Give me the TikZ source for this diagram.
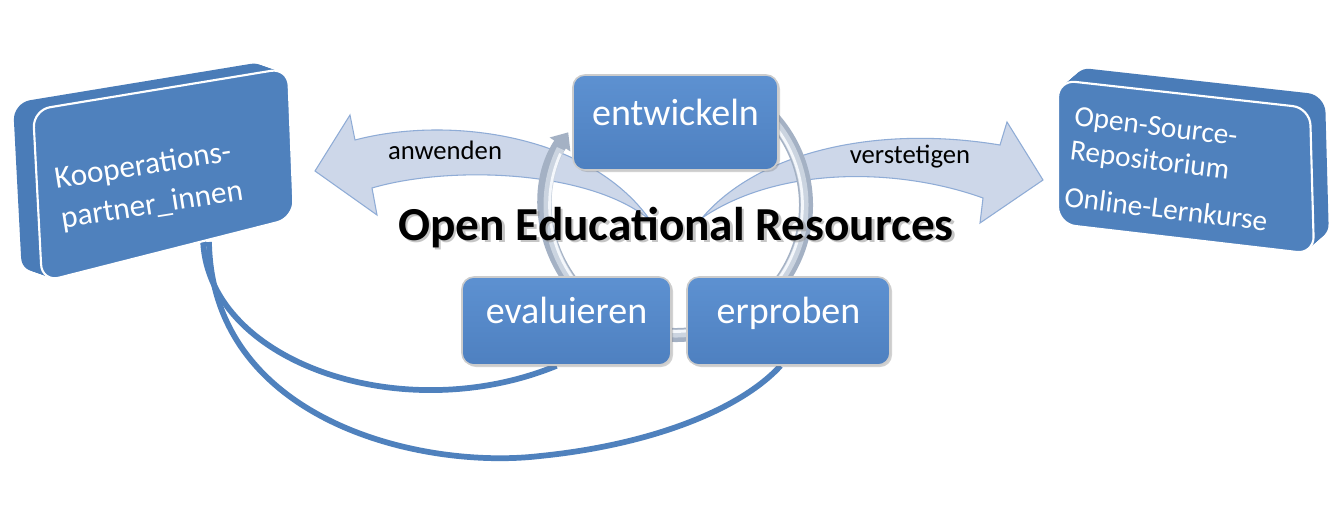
\documentclass[tikz,border=0pt]{standalone}
\usepackage{fontspec}
\setmainfont{Carlito}
\usetikzlibrary{arrows.meta,shadows,calc}
\definecolor{boxblue}{HTML}{4F81BD}
\definecolor{slabblue}{HTML}{4A7CB8}
\definecolor{cbtop}{HTML}{5D91D1}
\definecolor{cbbot}{HTML}{4E80C0}
\definecolor{arrfill}{HTML}{CDD7E9}
\definecolor{arrline}{HTML}{8FACD6}
\definecolor{ringdark}{HTML}{A4B1C4}
\definecolor{ringmid}{HTML}{CBD4E0}
\definecolor{ringlight}{HTML}{F4F7FB}
\definecolor{loopblue}{HTML}{4F81BD}
\newcommand\upx{0.75pt}
\pgfdeclarelayer{back}
\pgfsetlayers{back,main}
\begin{document}
\begin{tikzpicture}[x=0.75pt,y=-0.75pt,
  cbox/.style={rounded corners=9pt, draw=gray!40, line width=1.2pt,
    top color=cbtop, bottom color=cbbot, text=white,
    font=\fontsize{28.5}{34}\selectfont, inner sep=0pt,
    text height=0.6em, text depth=0.2em,
    drop shadow={shadow xshift=1.5pt, shadow yshift=-1.5pt, opacity=0.35}},
  bigarrow/.style={fill=arrfill, draw=arrline, line width=0.8pt},
  fbloop/.style={draw=loopblue, line width=4.3pt},
  slab/.style={fill=slabblue, rounded corners=13pt},
  face/.style={fill=boxblue, draw=white, line width=1.6pt, rounded corners=13pt},
  boxtext/.style={text=white, align=left, inner sep=0pt},
  lbl/.style={font=\fontsize{20}{24}\selectfont, inner sep=0pt},
  ring/.style={line cap=butt}
]
\useasboundingbox (0,0) rectangle (1344,512);

% left 3D box
\foreach \i in {10,9,...,1}
  \fill[slab, shift={(-2*\i,-0.7*\i)}] (33,110) -- (288,68) -- (294,218) -- (42,282) -- cycle;
\filldraw[face] (33,110) -- (288,68) -- (294,218) -- (42,282) -- cycle;
\node[boxtext, rotate=9, font=\fontsize{23.5}{30}\selectfont] (kp) at (149,186)
  {Kooperations-\\partner\_innen};
\coordinate (kpl1) at (203,236);
\coordinate (kpl2) at (209,242);

% right 3D box
\foreach \i in {10,9,...,1}
  \fill[slab, shift={(1.5*\i,-1.3*\i)}] (1058,80) -- (1310,108) -- (1314,254) -- (1058,224) -- cycle;
\filldraw[face] (1058,80) -- (1310,108) -- (1314,254) -- (1058,224) -- cycle;
\node[boxtext, rotate=-7, font=\fontsize{22}{26}\selectfont] (osr) at (1171,169)
  {Open-Source-\\Repositorium\\[9pt]Online-Lernkurse};

% curved arrows
\coordinate (awT) at (650,220);
\coordinate (vsT) at (702,218);
\draw[bigarrow] (awT) .. controls (590,135) and (450,115) .. (355,140) -- (350,115)
  -- (315,171) -- (377,215) -- (372,188) .. controls (450,165) and (590,170) .. (awT) -- cycle;
\draw[bigarrow] (vsT) .. controls (760,150) and (880,125) .. (1000,145) -- (1007,122)
  -- (1043,180) -- (980,223) -- (983,198) .. controls (900,168) and (780,165) .. (vsT) -- cycle;
\node[lbl] (aw) at (445,150) {anwenden};
\node[lbl] (vs) at (910,157) {verstetigen};

% cycle ring
\coordinate (rc) at (676,205);
\draw[ring, line width=10.5pt, ringdark, -{Triangle[length=11pt 0 0,width=18pt 0 0]}]
  (rc) ++(-50:130) arc[start angle=-50, end angle=214, radius=130];
\draw[ring, line width=6pt, ringmid] (rc) ++(-50:128.5) arc[start angle=-50, end angle=206, radius=128.5];
\draw[ring, line width=2pt, ringlight] (rc) ++(-50:126.5) arc[start angle=-50, end angle=204, radius=126.5];

% cycle boxes
\node[cbox, minimum width=205*\upx, minimum height=95*\upx] (en) at (675.5,122.5) {entwickeln};
\node[cbox, minimum width=209*\upx, minimum height=88*\upx] (ev) at (566.5,321) {evaluieren};
\node[cbox, minimum width=203*\upx, minimum height=88*\upx] (er) at (788.5,321) {erproben};

% title
\node[anchor=base, font=\bfseries\fontsize{35.5}{40}\selectfont, text=black!45, opacity=0.5] (titleshadow) at (678.5,242.5) {Open Educational Resources};
\node[anchor=base, font=\bfseries\fontsize{35.5}{40}\selectfont] (title) at (676,240) {Open Educational Resources};

% feedback loops
\begin{pgfonlayer}{back}
\fill[white] (0,0) rectangle (1344,512);
\draw[fbloop] (kpl1) .. controls (203,360) and (400,430) .. ($(ev.south)+(-10,0)$);
\draw[fbloop] (kpl2) .. controls (212,420) and (420,470) .. (540,456)
  .. controls (650,445) and (740,410) .. ($(er.south)+(-8,0)$);
\end{pgfonlayer}
\end{tikzpicture}
\end{document}
